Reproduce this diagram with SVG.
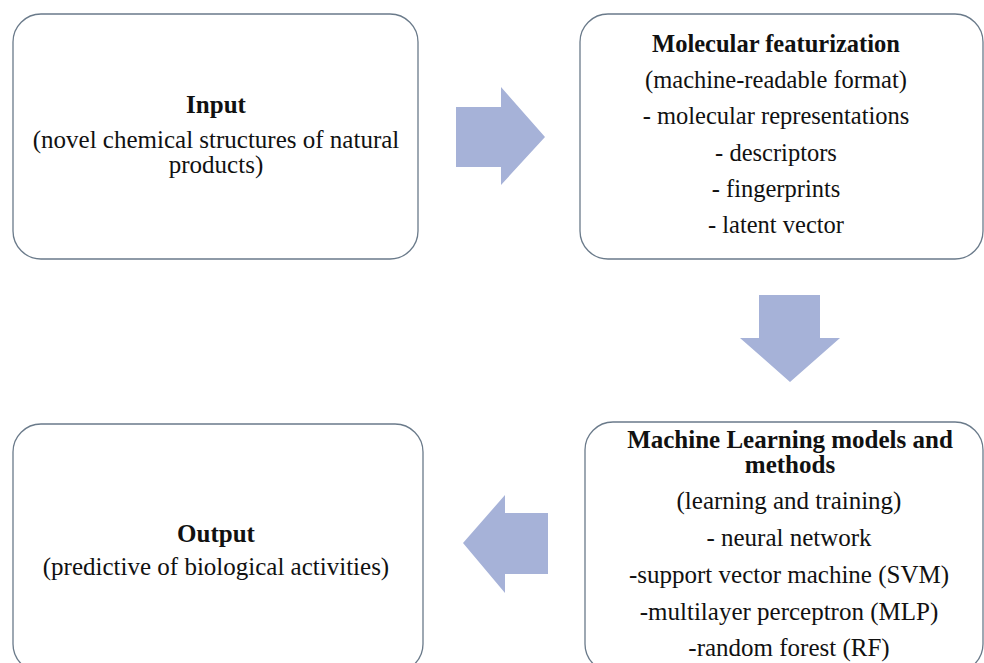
<svg xmlns="http://www.w3.org/2000/svg" width="984" height="663" viewBox="0 0 984 663">
<style>
.box{fill:#ffffff;stroke:#6a7a8a;stroke-width:1.3}
.arrow{fill:#a6b2d8;stroke:none}
.lbl{font-family:'Liberation Serif','DejaVu Serif',serif;font-size:25px;fill:#111111;text-anchor:middle}
.m{font-size:24.5px}
.t{font-weight:bold}
</style>
<rect width="984" height="663" fill="#ffffff"/>
<g id="connectors">
<polygon class="arrow" points="456,107 501,107 501,87 545,137 501,185 501,167 456,167"/>
<polygon class="arrow" points="759,295 820,295 820,338 840,338 790,382 740,338 759,338"/>
<polygon class="arrow" points="548,513 505,513 505,495 463,543 505,593 505,574 548,574"/>
</g>
<g id="input">
<rect class="box" x="13" y="14" width="405" height="245" rx="28" ry="28"/>
<text class="lbl t" x="216" y="113">Input</text>
<text class="lbl" x="216" y="148">(novel chemical structures of natural</text>
<text class="lbl" x="216" y="173">products)</text>
</g>
<g id="featurization">
<rect class="box" x="580" y="14" width="403" height="245" rx="28" ry="28"/>
<text class="lbl m t" x="776" y="52">Molecular featurization</text>
<text class="lbl m" x="776" y="88">(machine-readable format)</text>
<text class="lbl m" x="776" y="124">- molecular representations</text>
<text class="lbl m" x="776" y="161">- descriptors</text>
<text class="lbl m" x="776" y="197">- fingerprints</text>
<text class="lbl m" x="776" y="233">- latent vector</text>
</g>
<g id="ml">
<rect class="box" x="585" y="422" width="398" height="250" rx="28" ry="28"/>
<text class="lbl t" x="790" y="448">Machine Learning models and</text>
<text class="lbl t" x="790" y="473">methods</text>
<text class="lbl" x="789" y="509">(learning and training)</text>
<text class="lbl" x="789" y="546">- neural network</text>
<text class="lbl" x="789" y="583">-support vector machine (SVM)</text>
<text class="lbl" x="789" y="620">-multilayer perceptron (MLP)</text>
<text class="lbl" x="789" y="656">-random forest (RF)</text>
</g>
<g id="output">
<rect class="box" x="13" y="424" width="410" height="248" rx="28" ry="28"/>
<text class="lbl t" x="216" y="542">Output</text>
<text class="lbl" x="216" y="575">(predictive of biological activities)</text>
</g>
</svg>
